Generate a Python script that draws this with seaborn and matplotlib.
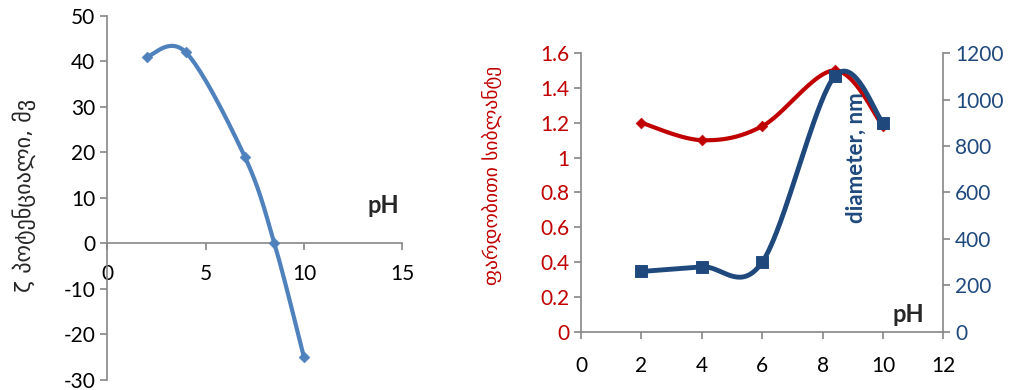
import numpy as np
import matplotlib
matplotlib.use("Agg")
import matplotlib.pyplot as plt
from matplotlib.ticker import FuncFormatter, MultipleLocator
import seaborn as sns

# ---- data ----
ph_zeta = [2, 4, 7, 8.5, 10]
zeta = [41, 42, 19, 0, -25]

ph_right = [2, 4, 6, 8.4, 10]
viscosity = [1.2, 1.1, 1.18, 1.5, 1.18]
diameter = [260, 280, 300, 1100, 900]

left_ylabel = "ζ პოტენციალი, მვ"
right_ylabel_red = "ფარდობითი სიბლანტე"
right_ylabel_blue = "diameter, nm"
xlabel = "pH"

sns.set_style("ticks")
plt.rcParams['font.family'] = ['Lato', 'DejaVu Sans']
plt.rcParams['axes.unicode_minus'] = False

BLUE_L = "#4F81BD"
RED = "#C00000"
BLUE_D = "#1F497D"
GRAY = "#868686"
TICK_FS = 15


def smooth(x, y, n=40):
    """Excel-like smoothed line (Catmull-Rom Bezier) through the points."""
    x = np.asarray(x, float); y = np.asarray(y, float)
    P = np.column_stack([x, y])
    out = []
    for i in range(len(P) - 1):
        p0 = P[i - 1] if i > 0 else P[i]
        p1 = P[i]; p2 = P[i + 1]
        p3 = P[i + 2] if i + 2 < len(P) else P[i + 1]
        c1 = p1 + (p2 - p0) / 6
        c2 = p2 - (p3 - p1) / 6
        t = np.linspace(0, 1, n)[:, None]
        b = (1 - t) ** 3 * p1 + 3 * (1 - t) ** 2 * t * c1 + 3 * (1 - t) * t ** 2 * c2 + t ** 3 * p2
        out.append(b if i == 0 else b[1:])
    B = np.vstack(out)
    return B[:, 0], B[:, 1]


fig = plt.figure(figsize=(10.21, 3.9), dpi=100)

# ---------------- left chart ----------------
ax = fig.add_axes([0.105, 0.026, 0.289, 0.933])
sx, sy = smooth(ph_zeta, zeta)
sns.lineplot(x=sx, y=sy, sort=False, ax=ax, color=BLUE_L, lw=3)
sns.scatterplot(x=ph_zeta, y=zeta, ax=ax, marker="D", s=30, color=BLUE_L, edgecolor=BLUE_L, zorder=5)
ax.set_xlim(0, 15)
ax.set_ylim(-30, 50)
ax.xaxis.set_major_locator(MultipleLocator(5))
ax.yaxis.set_major_locator(MultipleLocator(10))
ax.spines['bottom'].set_position(('data', 0))
for s in ['top', 'right']:
    ax.spines[s].set_visible(False)
for s in ['left', 'bottom']:
    ax.spines[s].set_color(GRAY)
    ax.spines[s].set_linewidth(1.2)
ax.tick_params(axis='both', colors=GRAY, labelcolor='black', labelsize=TICK_FS, length=5, width=1.2)
ax.tick_params(axis='x', pad=10)
ax.set_xlabel(""); ax.set_ylabel("")
ax.text(14.05, 8.4, xlabel, fontsize=17, fontweight='bold', ha='center', va='center')
fig.text(0.024, 0.50, left_ylabel, rotation=90, fontsize=16, ha='center', va='center',
         family=['DejaVu Sans'])

# ---------------- right chart ----------------
ax1 = fig.add_axes([0.569, 0.149, 0.355, 0.715])
ax2 = ax1.twinx()
rx, ry = smooth(ph_right, viscosity)
sns.lineplot(x=rx, y=ry, sort=False, ax=ax1, color=RED, lw=3)
sns.scatterplot(x=ph_right, y=viscosity, ax=ax1, marker="D", s=30, color=RED, edgecolor=RED, zorder=5)
bx, by = smooth(ph_right, diameter)
sns.lineplot(x=bx, y=by, sort=False, ax=ax2, color=BLUE_D, lw=3.5)
sns.scatterplot(x=ph_right, y=diameter, ax=ax2, marker="s", s=70, color=BLUE_D, edgecolor=BLUE_D, zorder=5)

ax1.set_xlim(0, 12)
ax1.set_ylim(0, 1.6)
ax2.set_ylim(0, 1200)
ax1.xaxis.set_major_locator(MultipleLocator(2))
ax1.yaxis.set_major_locator(MultipleLocator(0.2))
ax2.yaxis.set_major_locator(MultipleLocator(200))
ax1.yaxis.set_major_formatter(FuncFormatter(lambda v, p: f"{v:g}"))
for a in (ax1, ax2):
    a.spines['top'].set_visible(False)
    for s in ['left', 'bottom', 'right']:
        a.spines[s].set_color(GRAY)
        a.spines[s].set_linewidth(1.2)
    a.set_xlabel(""); a.set_ylabel("")
ax1.spines['right'].set_visible(False)
ax2.spines['left'].set_visible(False)
ax2.spines['bottom'].set_visible(False)
ax1.tick_params(axis='x', colors=GRAY, labelcolor='black', labelsize=TICK_FS, length=5, width=1.2, pad=12)
ax1.tick_params(axis='y', colors=GRAY, labelcolor=RED, labelsize=TICK_FS, length=5, width=1.2)
ax2.tick_params(axis='y', colors=GRAY, labelcolor=BLUE_D, labelsize=TICK_FS, length=5, width=1.2)
ax1.text(10.85, 0.097, xlabel, fontsize=17, fontweight='bold', ha='center', va='center')
ax2.text(0.76, 0.624, right_ylabel_blue, transform=ax1.transAxes, rotation=90, fontsize=16,
         fontweight='bold', color=BLUE_D, ha='center', va='center')
fig.text(0.482, 0.551, right_ylabel_red, rotation=90, fontsize=14, color=RED,
         ha='center', va='center', family=['DejaVu Sans'])

fig.savefig("out.png", dpi=100)
